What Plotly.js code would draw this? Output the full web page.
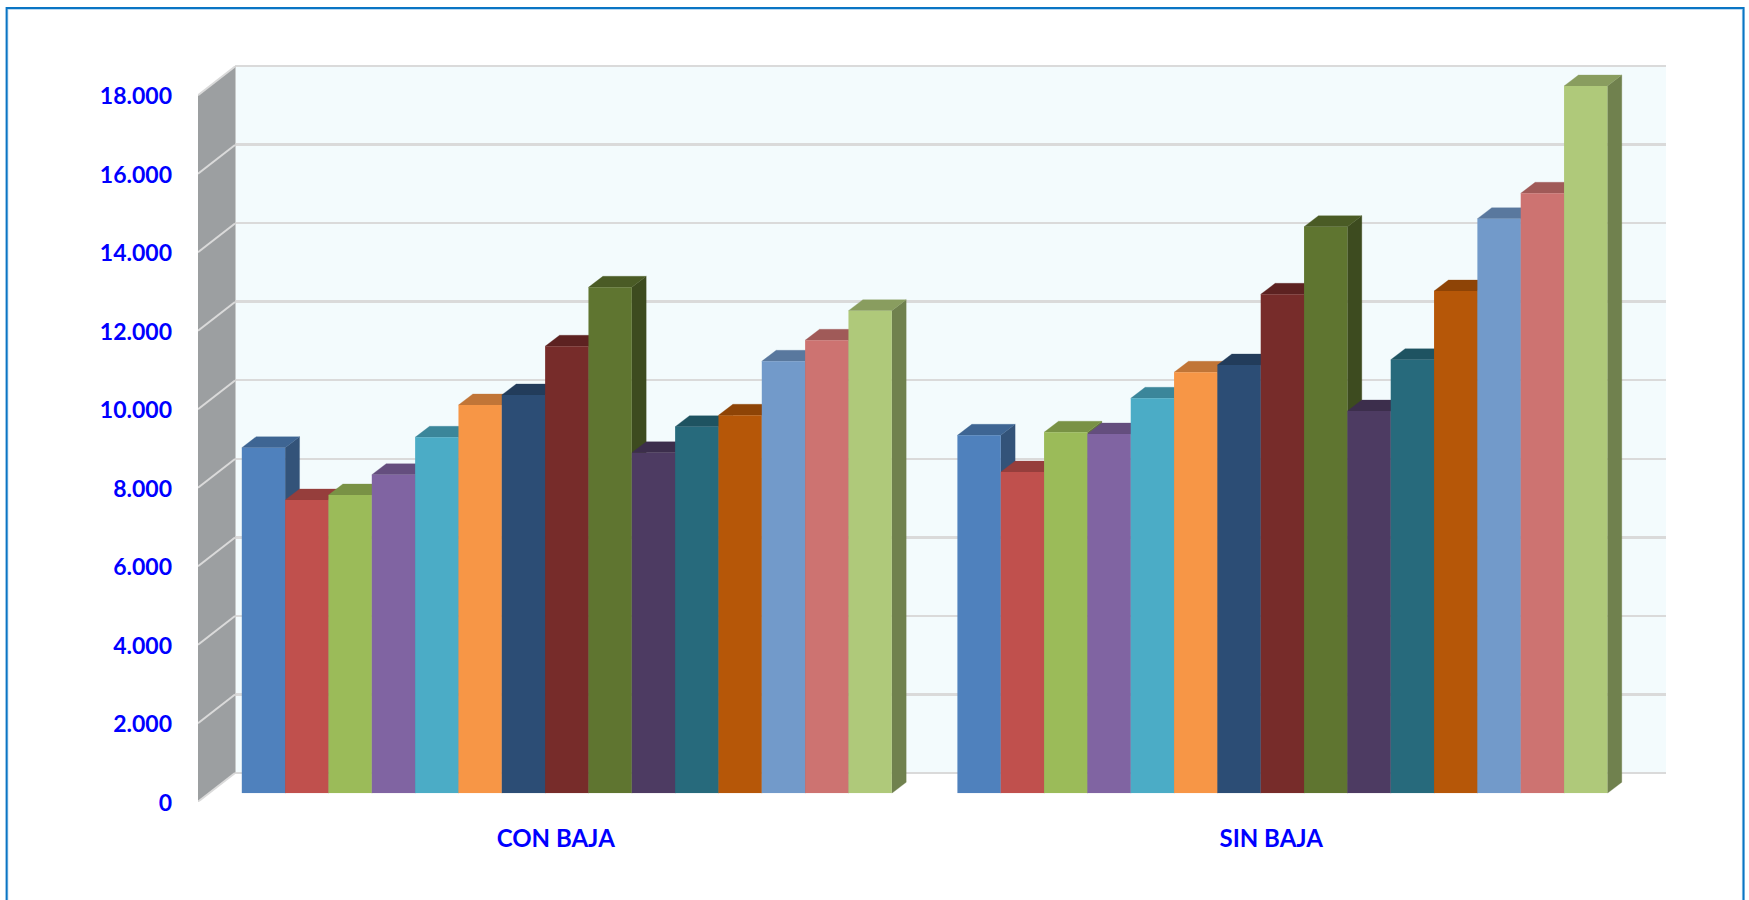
<!DOCTYPE html>
<html>
<head>
<meta charset="utf-8">
<script src="https://cdn.plot.ly/plotly-3.0.1.min.js"></script>
<style>html,body{margin:0;padding:0;background:#fff;overflow:hidden}</style>
</head>
<body>
<div id="chart" style="width:1749px;height:900px"></div>
<script>
// ---- data ----
var groupLabels = ['CON BAJA', 'SIN BAJA'];
var conBaja = [8805, 7473, 7600, 8117, 9070, 9893, 10148, 11389, 12892, 8678, 9340, 9631, 11007, 11542, 12296];
var sinBaja = [9121, 8186, 9198, 9154, 10064, 10726, 10912, 12713, 14436, 9740, 11047, 12797, 14640, 15287, 18020];
var seriesColors = ['#4F81BD', '#C0504D', '#9BBB59', '#8064A2', '#4BACC6', '#F79646', '#2C4D75', '#772C2A',
                    '#5F7530', '#4D3B62', '#276A7C', '#B65708', '#729ACA', '#CD7371', '#AFC97A'];
var tickValues = [0, 2000, 4000, 6000, 8000, 10000, 12000, 14000, 16000, 18000];
var tickLabels = ['0', '2.000', '4.000', '6.000', '8.000', '10.000', '12.000', '14.000', '16.000', '18.000'];

// ---- geometry of the fake 3D box, in page pixels ----
var W = 1749, H = 900;
var PX_PER_UNIT = 78.5 / 2000;
var backL = 235, backR = 1666, backBase = 773, backTop = 66, backPad = 6;
var frontL = 198, frontBase = 801.7, frontCatW = 715.5;
var barCatW = 715.6, barAxisL = 209.0, barBase = 793.3, barTopPx = 45;
var barDepthX = 14.4, barDepthY = 11.0, wallDepthX = backL - frontL, wallDepthY = frontBase - backBase;
var gapFrac = 0.0917;
var textBlue = '#0000FF', gridCol = '#DADADA', wallCol = '#9C9FA1', panelCol = '#F3FBFD';
var FONT = 'Lato, "Open Sans", sans-serif';

function fx(p) { return p / W; }
function fy(p) { return 1 - p / H; }
function shade(hex, k) {
  var n = parseInt(hex.slice(1), 16);
  return 'rgb(' + [(n >> 16) & 255, (n >> 8) & 255, n & 255].map(function (c) { return Math.round(c * k); }).join(',') + ')';
}
function poly(xs, ys, color, xa, ya) {
  return { type: 'scatter', mode: 'lines', x: xs, y: ys, fill: 'toself', fillcolor: color,
           line: { width: 0.3, color: color }, xaxis: xa, yaxis: ya, hoverinfo: 'skip', showlegend: false };
}

var traces = [];
var maxTick = tickValues[tickValues.length - 1];
var padUnits = backPad / PX_PER_UNIT;

// invisible carrier so the back plane (grid) exists
traces.push({ type: 'scatter', mode: 'none', x: [0, 2], y: [0, maxTick], xaxis: 'x', yaxis: 'y', hoverinfo: 'skip', showlegend: false });

// left wall and its slanted grid lines, on the front plane axes
var wdx = wallDepthX / frontCatW, wdy = wallDepthY / PX_PER_UNIT;
traces.push(poly([0, wdx, wdx, 0, 0], [0, wdy, maxTick + wdy, maxTick, 0], wallCol, 'x2', 'y2'));
tickValues.forEach(function (v) {
  traces.push({ type: 'scatter', mode: 'lines', x: [0, wdx], y: [v, v + wdy], line: { color: gridCol, width: 2 },
                xaxis: 'x2', yaxis: 'y2', hoverinfo: 'skip', showlegend: false });
});

// top and side faces of every bar, on the bar plane axes
var bw = (1 - gapFrac) / seriesColors.length;
var bdx = barDepthX / barCatW, bdy = barDepthY / PX_PER_UNIT;
[conBaja, sinBaja].forEach(function (vals, c) {
  vals.forEach(function (v, s) {
    var L = c - 0.5 + gapFrac / 2 + s * bw, R = L + bw;
    traces.push(poly([R, R + bdx, R + bdx, R, R], [0, bdy, v + bdy, v, 0], shade(seriesColors[s], 0.64), 'x3', 'y3'));
    traces.push(poly([L, R, R + bdx, L + bdx, L], [v, v, v + bdy, v + bdy, v], shade(seriesColors[s], 0.78), 'x3', 'y3'));
  });
});

// front faces: one real bar trace per series
seriesColors.forEach(function (col, s) {
  traces.push({ type: 'bar', name: 'Serie ' + (s + 1), x: groupLabels, y: [conBaja[s], sinBaja[s]],
                marker: { color: col, line: { width: 0 } }, xaxis: 'x4', yaxis: 'y4', showlegend: false });
});

var hidden = { showgrid: false, zeroline: false, showticklabels: false, ticks: '', showline: false, fixedrange: true };
function ax(extra) { return Object.assign({}, hidden, extra); }

var layout = {
  width: W, height: H, autosize: false,
  margin: { l: 0, r: 0, t: 0, b: 0, pad: 0 },
  paper_bgcolor: '#FFFFFF', plot_bgcolor: 'rgba(0,0,0,0)',
  showlegend: false, barmode: 'group', bargap: gapFrac, bargroupgap: 0,
  font: { family: FONT, color: textBlue },
  // back plane: slightly padded so the 0 and top grid lines are kept
  xaxis: ax({ domain: [fx(backL), fx(backR)], range: [0, 2], anchor: 'y' }),
  yaxis: ax({ domain: [fy(backBase + backPad), fy(backTop - backPad)], range: [-padUnits, maxTick + padUnits], anchor: 'x',
              tickmode: 'array', tickvals: tickValues, showgrid: true, gridcolor: gridCol, gridwidth: 2.4 }),
  // front plane: carries the tick labels
  xaxis2: ax({ domain: [fx(frontL), fx(backR)], range: [0, (backR - frontL) / frontCatW], anchor: 'y2',
               tickmode: 'array', tickvals: [0.5, 1.5], ticktext: groupLabels, showticklabels: true,
               ticklabelstandoff: 20, tickfont: { family: FONT, size: 24, color: textBlue, weight: 'bold' } }),
  yaxis2: ax({ domain: [fy(frontBase), fy(barTopPx)], range: [0, (frontBase - barTopPx) / PX_PER_UNIT], anchor: 'x2',
               tickmode: 'array', tickvals: tickValues, ticktext: tickLabels, showticklabels: true,
               ticklabelstandoff: 25, ticklabelshift: 1, tickfont: { family: FONT, size: 23, color: textBlue, weight: 'bold' } }),
  // bar plane: depth faces
  xaxis3: ax({ domain: [fx(barAxisL), fx(barAxisL + 2 * barCatW)], range: [-0.5, 1.5], anchor: 'y3' }),
  yaxis3: ax({ domain: [fy(barBase), fy(barTopPx)], range: [0, (barBase - barTopPx) / PX_PER_UNIT], anchor: 'x3' }),
  // bar plane: front faces
  xaxis4: ax({ domain: [fx(barAxisL), fx(barAxisL + 2 * barCatW)], range: [-0.5, 1.5], type: 'category', anchor: 'y4' }),
  yaxis4: ax({ domain: [fy(barBase), fy(barTopPx)], range: [0, (barBase - barTopPx) / PX_PER_UNIT], anchor: 'x4' }),
  shapes: [
    { type: 'rect', xref: 'paper', yref: 'paper', layer: 'below', x0: fx(backL), x1: fx(backR), y0: fy(backBase), y1: fy(backTop),
      fillcolor: panelCol, line: { width: 0 } },
    { type: 'line', xref: 'paper', yref: 'paper', layer: 'below', x0: fx(backL), x1: fx(backL), y0: fy(backBase), y1: fy(backTop),
      line: { color: '#D0D3D4', width: 2 } },
    { type: 'rect', xref: 'paper', yref: 'paper', layer: 'below', x0: fx(7.8), x1: fx(1742.4), y0: -0.05, y1: fy(9.3),
      fillcolor: 'rgba(0,0,0,0)', line: { color: '#A9D0EE', width: 1 } },
    { type: 'rect', xref: 'paper', yref: 'paper', layer: 'below', x0: fx(6.6), x1: fx(1743.6), y0: -0.05, y1: fy(8.1),
      fillcolor: 'rgba(0,0,0,0)', line: { color: '#0A75C4', width: 2 } }
  ]
};

Plotly.newPlot('chart', traces, layout, { displayModeBar: false, staticPlot: true });
</script>
</body>
</html>
